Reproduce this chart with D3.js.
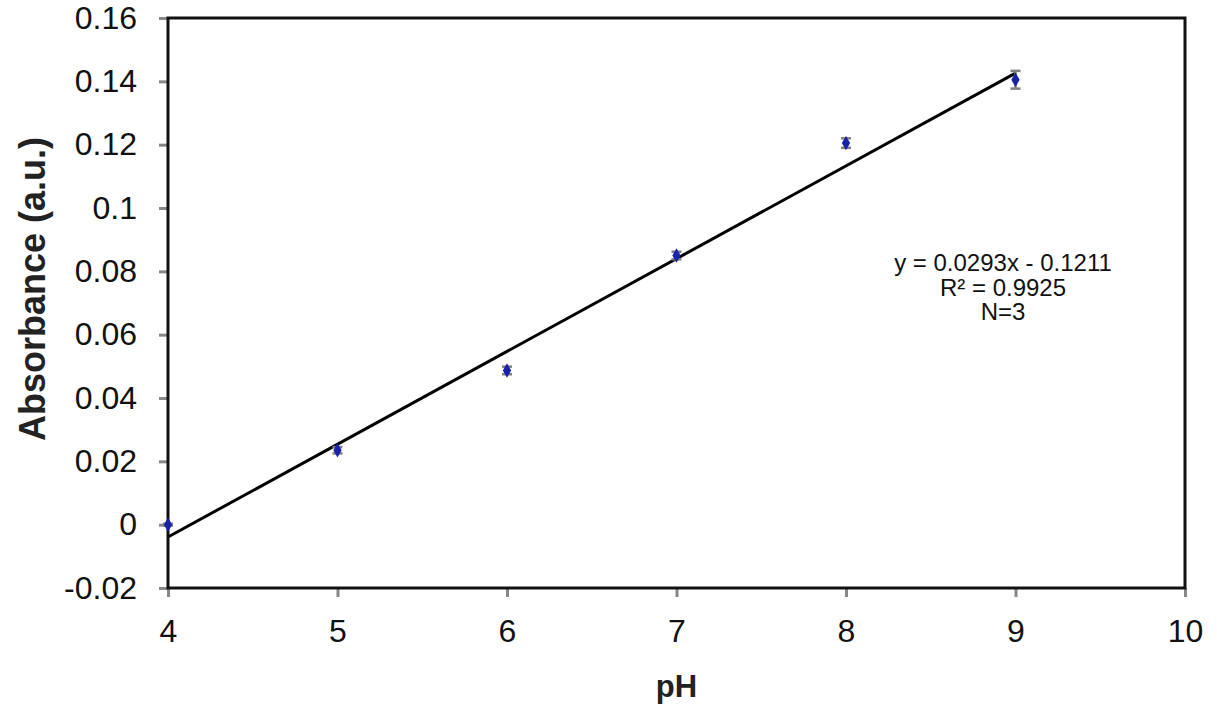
<!DOCTYPE html>
<html>
<head>
<meta charset="utf-8">
<script src="https://cdn.jsdelivr.net/npm/d3@7"></script>
<style>
  body { margin: 0; background: #fff; }
  text { font-family: "Liberation Sans", Arial, sans-serif; }
</style>
</head>
<body>
<div class="chart"></div>
<script>
var phValues = [4, 5, 6, 7, 8, 9];
var absorbance = [0, 0.0235, 0.0487, 0.085, 0.1205, 0.1405];
var errors = [0.0003, 0.001, 0.0012, 0.0012, 0.0015, 0.0028];
var xTicks = [4, 5, 6, 7, 8, 9, 10];
var yTicks = [-0.02, 0, 0.02, 0.04, 0.06, 0.08, 0.1, 0.12, 0.14, 0.16];
var fitSlope = 0.0293, fitIntercept = -0.1211;
var fitRange = [4, 9];
var annotation = ['y = 0.0293x - 0.1211', 'R\u00b2 = 0.9925', 'N=3'];

function init() {
  var width = 1217,
      height = 708,
      margin = { left: 168, top: 18, right: 32, bottom: 120 };

  var x = d3.scaleLinear().domain([4, 10]).range([margin.left, width - margin.right]);
  var y = d3.scaleLinear().domain([-0.02, 0.16]).range([height - margin.bottom, margin.top]);

  var svg = d3.select('.chart')
    .append('svg')
      .attr('width', width)
      .attr('height', height);

  // axes
  var xAxis = d3.axisBottom(x).tickValues(xTicks).tickSize(9).tickPadding(22)
        .tickFormat(function(d) { return String(d); }),
      yAxis = d3.axisLeft(y).tickValues(yTicks).tickSize(9).tickPadding(22)
        .tickFormat(function(d) { return String(+d.toFixed(2)); });

  var gx = svg.append('g')
      .attr('transform', 'translate(0,' + y(-0.02) + ')')
      .call(xAxis);
  var gy = svg.append('g')
      .attr('transform', 'translate(' + x(4) + ',0)')
      .call(yAxis);

  [gx, gy].forEach(function(g) {
    g.select('.domain').remove();
    g.selectAll('.tick line').attr('stroke', '#888').attr('stroke-width', 3);
    g.selectAll('.tick text')
      .attr('fill', '#111')
      .style('font-size', '32px');
  });

  // frame
  svg.append('rect')
      .attr('x', x(4))
      .attr('y', y(0.16))
      .attr('width', x(10) - x(4))
      .attr('height', y(-0.02) - y(0.16))
      .attr('fill', 'none')
      .attr('stroke', '#111')
      .attr('stroke-width', 3);

  // trend line
  svg.append('line')
      .attr('x1', x(fitRange[0]))
      .attr('y1', y(fitSlope * fitRange[0] + fitIntercept))
      .attr('x2', x(fitRange[1]))
      .attr('y2', y(fitSlope * fitRange[1] + fitIntercept))
      .attr('stroke', '#000')
      .attr('stroke-width', 3);

  var points = phValues.map(function(p, i) {
    return { x: p, y: absorbance[i], e: errors[i] };
  });

  // error bars
  var eb = svg.append('g').attr('stroke', '#808080').attr('stroke-width', 2.5);
  eb.selectAll('line.v').data(points).enter().append('line')
      .attr('x1', function(d) { return x(d.x); })
      .attr('x2', function(d) { return x(d.x); })
      .attr('y1', function(d) { return y(d.y - d.e); })
      .attr('y2', function(d) { return y(d.y + d.e); });
  eb.selectAll('line.top').data(points).enter().append('line')
      .attr('x1', function(d) { return x(d.x) - 5; })
      .attr('x2', function(d) { return x(d.x) + 5; })
      .attr('y1', function(d) { return y(d.y + d.e); })
      .attr('y2', function(d) { return y(d.y + d.e); });
  eb.selectAll('line.bot').data(points).enter().append('line')
      .attr('x1', function(d) { return x(d.x) - 5; })
      .attr('x2', function(d) { return x(d.x) + 5; })
      .attr('y1', function(d) { return y(d.y - d.e); })
      .attr('y2', function(d) { return y(d.y - d.e); });

  // markers
  svg.selectAll('path.pt').data(points).enter().append('path')
      .attr('class', 'pt')
      .attr('d', d3.symbol().type(d3.symbolDiamond).size(60))
      .attr('transform', function(d) { return 'translate(' + x(d.x) + ',' + y(d.y) + ')'; })
      .attr('fill', '#1a22a8');

  // annotation
  svg.append('text')
      .attr('x', 1003)
      .attr('y', 271)
      .attr('text-anchor', 'middle')
      .style('font-size', '24px')
      .attr('fill', '#111')
    .selectAll('tspan').data(annotation).enter().append('tspan')
      .attr('x', 1003)
      .attr('dy', function(d, i) { return i === 0 ? 0 : 24.5; })
      .text(function(d) { return d; });

  // axis titles
  svg.append('text')
      .attr('x', x(7))
      .attr('y', 697)
      .attr('text-anchor', 'middle')
      .style('font-size', '31px')
      .style('font-weight', 'bold')
      .attr('fill', '#222')
      .text('pH');

  svg.append('text')
      .attr('transform', 'translate(45,289) rotate(-90)')
      .attr('text-anchor', 'middle')
      .style('font-size', '36px')
      .style('font-weight', 'bold')
      .attr('fill', '#222')
      .text('Absorbance (a.u.)');
}

d3.select(window).on('load', init);
</script>
</body>
</html>
